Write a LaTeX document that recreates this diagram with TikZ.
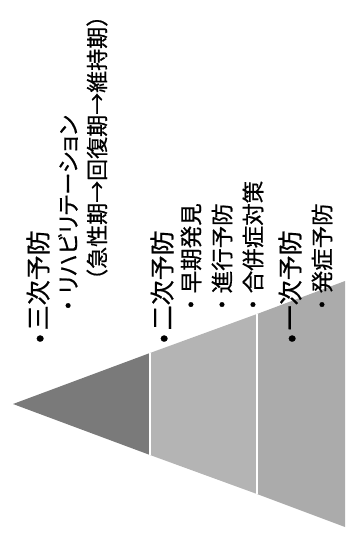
\documentclass[tikz,border=0pt]{standalone}
\usepackage{fontspec}
\newfontfamily\jpfont[FakeBold=0.6]{Noto Sans CJK JP}
\newfontfamily\jpprop[FakeBold=0.6,RawFeature=+palt]{Noto Sans CJK JP}
\usetikzlibrary{positioning}
\definecolor{tertiarygray}{HTML}{7A7A7A}
\definecolor{secondarygray}{HTML}{B4B4B4}
\definecolor{primarygray}{HTML}{ABABAB}
\tikzset
{
  heading/.style = {rotate=90, anchor=west, inner sep=0pt, font=\jpfont\fontsize{25}{27}\selectfont},
  item/.style    = {rotate=90, anchor=west, inner sep=0pt, font=\jpfont\fontsize{22.5}{25}\selectfont},
  divider/.style = {white, line width=1.6pt}
}
\begin{document}
\begin{tikzpicture}[x=1pt,y=-1pt]
  \useasboundingbox (0,0) rectangle (345,537);
  % pyramid, apex to the left
  \coordinate (apex) at (13,404);
  \coordinate (a1) at (150,353);
  \coordinate (a2) at (150,455);
  \coordinate (b1) at (257,314);
  \coordinate (b2) at (257,494);
  \coordinate (c1) at (345,281);
  \coordinate (c2) at (345,527);
  \fill[tertiarygray] (apex) -- (a1) -- (a2) -- cycle;
  \fill[secondarygray] (a1) -- (b1) -- (b2) -- (a2) -- cycle;
  \fill[primarygray] (b1) -- (c1) -- (c2) -- (b2) -- cycle;
  \draw[divider] (a1) -- (a2);
  \draw[divider] (b1) -- (b2);
  % tertiary prevention
  \node [heading] (h3) at (38,343) {•\kern4pt 三次予防};
  \node [item] (r1) at (68,317) {・{\jpprop リハビリテーション}};
  \node [item, font=\jpfont\fontsize{22}{24}\selectfont] (r2) at (97,291) {（急性期→回復期→維持期）};
  % secondary prevention
  \node [heading] (h2) at (162,343) {•\kern4pt 二次予防};
  \node [item] (s1) at (191,316) {・早期発見};
  \node [item] (s2) at (222,316) {・進行予防};
  \node [item] (s3) at (253,316) {・合併症対策};
  % primary prevention
  \node [heading] (h1) at (290,343) {•\kern4pt 一次予防};
  \node [item] (p1) at (322,316) {・発症予防};
\end{tikzpicture}
\end{document}
